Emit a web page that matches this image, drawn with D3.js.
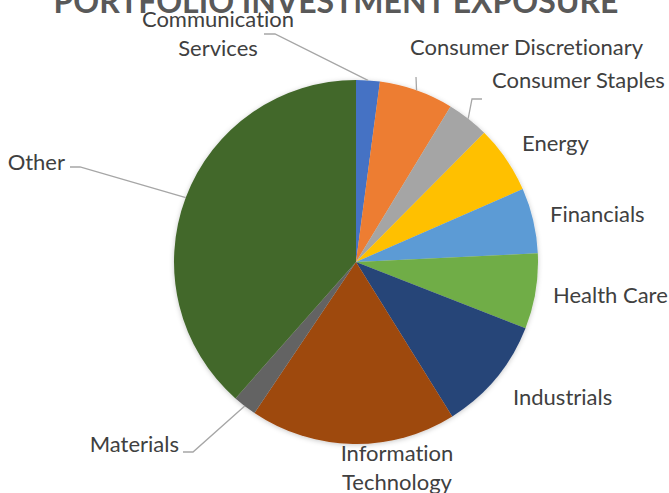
<!DOCTYPE html>
<html>
<head>
<meta charset="utf-8">
<script src="https://cdn.jsdelivr.net/npm/d3@7"></script>
<style>
  html, body { margin: 0; padding: 0; background: #fff; }
  svg { display: block; }
  text { font-variant-ligatures: none; }
</style>
</head>
<body>
<svg id="chart"></svg>
<script>
// Данные диаграммы
const categories = [
  "Communication Services", "Consumer Discretionary", "Consumer Staples",
  "Energy", "Financials", "Health Care", "Industrials",
  "Information Technology", "Materials", "Other"
];
const exposure = [2.1, 6.6, 3.75, 6.0, 5.8, 6.7, 10.2, 18.3, 2.1, 38.5];
const sliceColors = [
  "#4472C4", "#ED7D31", "#A5A5A5", "#FFC000", "#5B9BD5",
  "#70AD47", "#264478", "#9E480E", "#636363", "#43682B"
];
const title = "PORTFOLIO INVESTMENT EXPOSURE";

// Размеры
const width = 669, height = 493;
const cx = 356, cy = 262, radius = 182;

// Расположение подписей (строки, якорь, точка выноски)
const labelLayout = {
  "Communication Services": { lines: ["Communication", "Services"], x: 218, y: 27, anchor: "middle", leader: [264, 34], elbow: [275, 34] },
  "Consumer Discretionary": { lines: ["Consumer Discretionary"], x: 410, y: 55, anchor: "start", leader: [416, 77], elbow: null },
  "Consumer Staples": { lines: ["Consumer Staples"], x: 492, y: 88, anchor: "start", leader: [482, 99], elbow: [472, 99] },
  "Energy": { lines: ["Energy"], x: 522, y: 151, anchor: "start" },
  "Financials": { lines: ["Financials"], x: 550, y: 222, anchor: "start" },
  "Health Care": { lines: ["Health Care"], x: 553, y: 303, anchor: "start" },
  "Industrials": { lines: ["Industrials"], x: 513, y: 405, anchor: "start" },
  "Information Technology": { lines: ["Information", "Technology"], x: 397, y: 461, anchor: "middle" },
  "Materials": { lines: ["Materials"], x: 179, y: 452, anchor: "end", leader: [183, 452], elbow: [193, 452] },
  "Other": { lines: ["Other"], x: 65, y: 170, anchor: "end", leader: [70, 167], elbow: [80, 167] }
};

const data = categories.map((c, i) => ({ category: c, value: exposure[i], color: sliceColors[i] }));

const svg = d3.select("#chart")
  .attr("width", width)
  .attr("height", height);

// Мягкая тень под кругом
const defs = svg.append("defs");
defs.append("filter")
  .attr("id", "shadow")
  .attr("x", "-10%").attr("y", "-10%")
  .attr("width", "120%").attr("height", "120%")
  .append("feDropShadow")
  .attr("dx", 0).attr("dy", 1)
  .attr("stdDeviation", 2.5)
  .attr("flood-color", "#000")
  .attr("flood-opacity", 0.22);

const pie = d3.pie().sort(null).value((d) => d.value);
const arc = d3.arc().innerRadius(0).outerRadius(radius);
const edgeArc = d3.arc().innerRadius(radius).outerRadius(radius);

const arcs = pie(data);

const g = svg.append("g").attr("transform", `translate(${cx},${cy})`);

g.append("g")
  .attr("filter", "url(#shadow)")
  .selectAll("path")
  .data(arcs)
  .enter()
  .append("path")
  .attr("d", arc)
  .attr("fill", (d) => d.data.color);

// Выноски
const leaderData = arcs.filter((d) => labelLayout[d.data.category].leader);
svg.append("g")
  .selectAll("polyline")
  .data(leaderData)
  .enter()
  .append("polyline")
  .attr("fill", "none")
  .attr("stroke", "#A6A6A6")
  .attr("stroke-width", 1.3)
  .attr("points", (d) => {
    const l = labelLayout[d.data.category];
    const e = edgeArc.centroid(d);
    const pts = [l.leader];
    if (l.elbow) pts.push(l.elbow);
    pts.push([e[0] + cx, e[1] + cy]);
    return pts.map((p) => p.join(",")).join(" ");
  });

// Подписи категорий
const labels = svg.append("g")
  .attr("font-family", "Lato, 'Open Sans', sans-serif")
  .attr("font-size", 22)
  .attr("fill", "#404040");

arcs.forEach((d) => {
  const l = labelLayout[d.data.category];
  const t = labels.append("text")
    .attr("x", l.x)
    .attr("y", l.y)
    .attr("text-anchor", l.anchor);
  l.lines.forEach((line, i) => {
    t.append("tspan")
      .attr("x", l.x)
      .attr("dy", i === 0 ? 0 : 29)
      .text(line);
  });
});

// Заголовок
svg.append("text")
  .attr("x", 336)
  .attr("y", 13)
  .attr("text-anchor", "middle")
  .attr("font-family", "Lato, 'Open Sans', sans-serif")
  .attr("font-weight", "bold")
  .attr("font-size", 32)
  .attr("fill", "#595959")
  .text(title);
</script>
</body>
</html>
